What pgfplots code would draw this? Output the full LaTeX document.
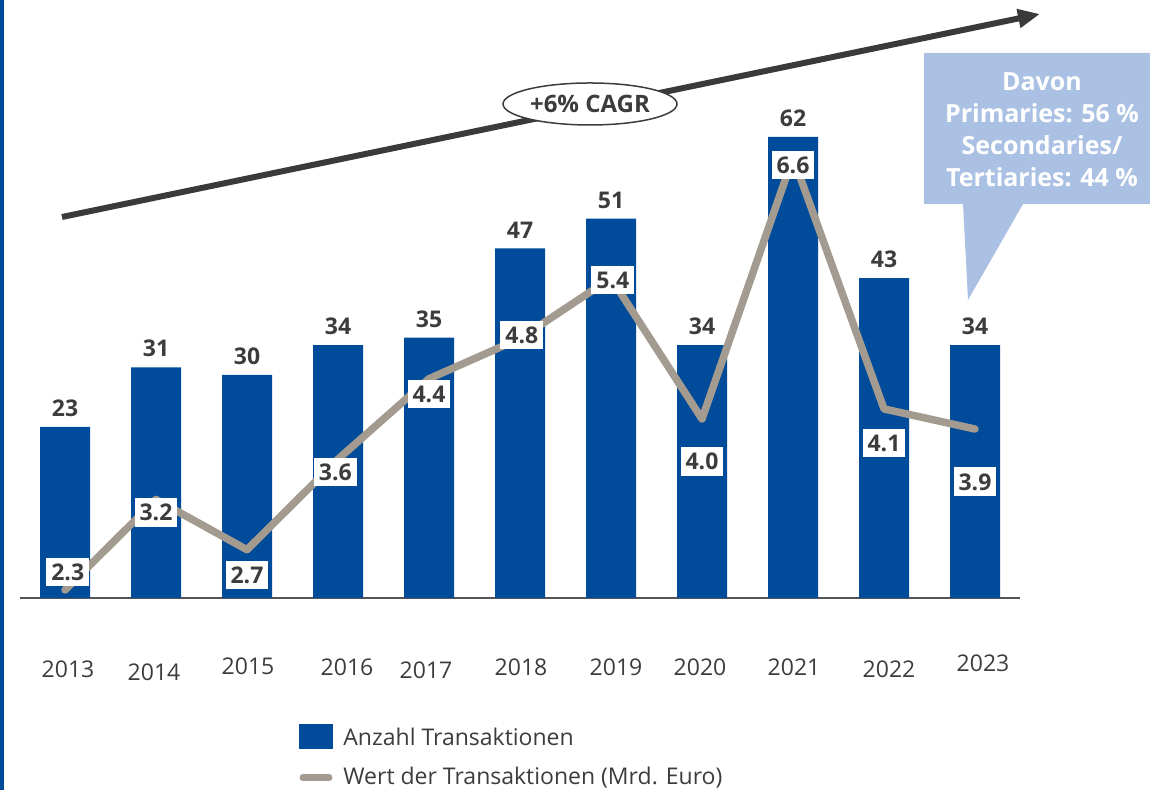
\documentclass[border=0pt]{standalone}
\usepackage{fontspec}
\setmainfont{Open Sans}
\usepackage{pgfplots}
\pgfplotsset{compat=1.18}
\usetikzlibrary{arrows.meta}
\definecolor{barblue}{HTML}{004B9A}
\definecolor{linegray}{HTML}{A39B8F}
\definecolor{calloutblue}{HTML}{ABC1E3}
\definecolor{txt}{HTML}{3C3C3C}
\definecolor{arrowgray}{HTML}{3A3A3A}
\definecolor{basegray}{HTML}{555555}
\newcommand\yl[3]{\raisebox{#2}{\makebox[0pt]{\hspace{#1}#3}}}
\begin{document}
\begin{tikzpicture}
\path[use as bounding box] (0,0) rectangle (575pt,395pt);
% bars
\begin{axis}[at={(10pt,96pt)}, anchor=south west, scale only axis,
  width=500pt, height=299pt,
  xmin=-0.4945, xmax=10.4945, ymin=0, ymax=80.4,
  axis x line=bottom, axis y line=none,
  x axis line style={-, draw=basegray, line width=1pt},
  xtick={0,...,10}, major tick length=0pt,
  xticklabels={\yl{3pt}{-1pt}{2013},\yl{-2pt}{-2.5pt}{2014},\yl{1pt}{0.5pt}{2015},
    \yl{9pt}{0pt}{2016},\yl{-3pt}{-1.5pt}{2017},\yl{1pt}{0pt}{2018},\yl{5pt}{0pt}{2019},
    \yl{-2pt}{0pt}{2020},\yl{1pt}{0pt}{2021},\yl{5pt}{-1pt}{2022},\yl{8pt}{2pt}{2023}},
  xticklabel style={anchor=base, yshift=-39pt, font=\fontsize{11.5}{13}\selectfont, text=txt},
  clip=false]
\addplot[ybar, bar width=25pt, fill=barblue, draw=none,
  point meta=explicit symbolic, nodes near coords,
  nodes near coords style={font=\bfseries\fontsize{11.5}{13}\selectfont, text=txt,
    anchor=south, inner sep=0pt, yshift=4.9pt}]
  coordinates {(0,23)[23] (1,31)[31] (2,30)[30] (3,34)[34] (4,35)[35] (5,47)[47]
    (6,51)[51] (7,34)[34] (8,62)[62] (9,43)[43] (10,34)[34]};
\end{axis}
% line
\begin{axis}[at={(10pt,96pt)}, anchor=south west, scale only axis,
  width=500pt, height=299pt,
  xmin=-0.4945, xmax=10.4945, ymin=2.2205, ymax=8.165,
  hide axis, clip=false]
\addplot[linegray, line width=3.75pt, line cap=round, line join=round, mark=none]
  coordinates {(0,2.3) (1,3.2) (2,2.7) (3,3.6) (4,4.4) (5,4.8) (6,5.4) (7,4.0)
    (8,6.6) (9,4.1) (10,3.9)};
\addplot[draw=none, mark=none, point meta=explicit symbolic, nodes near coords,
  nodes near coords style={fill=white, text=txt, font=\bfseries\fontsize{11.5}{13}\selectfont,
    inner xsep=2.5pt, inner ysep=3pt, anchor=center}]
  coordinates {(0.03,2.479)[2.3] (1,3.075)[3.2] (2,2.449)[2.7] (2.97,3.473)[3.6]
    (4,4.248)[4.4] (5.02,4.835)[4.8] (6.02,5.381)[5.4] (7,3.582)[4.0]
    (8,6.525)[6.6] (9,3.761)[4.1] (10,3.374)[3.9]};
\end{axis}
% annotations in image pixel coordinates
\begin{scope}[x=0.5pt,y=-0.5pt,shift={(0pt,395pt)}]
\fill[barblue] (0,0) rectangle (4,790);
\draw[arrowgray, line width=3pt, -{Triangle[length=11pt,width=9pt]}] (62,217) -- (1040,14);
\filldraw[fill=white, draw=txt, line width=0.75pt] (590,104) ellipse [x radius=87, y radius=21];
\node[text=txt, font=\bfseries\fontsize{12}{14}\selectfont] at (590,104) {+6\% CAGR};
\fill[calloutblue] (924,53) -- (1150,53) -- (1150,204) -- (1023,204) -- (968,300)
  -- (963,204) -- (924,204) -- cycle;
\node[text=white, font=\bfseries\fontsize{12.5}{16}\selectfont, align=center] at (1042,130)
  {Davon\\Primaries: 56 \%\\Secondaries/\\Tertiaries: 44 \%};
% legend
\fill[barblue] (299,724) rectangle (333,749);
\draw[linegray, line width=3.5pt, line cap=round] (303,778) -- (329,778);
\node[anchor=west, text=txt, font=\fontsize{11.5}{14}\selectfont, inner sep=0pt] at (343,737)
  {Anzahl Transaktionen};
\node[anchor=west, text=txt, font=\fontsize{11.5}{14}\selectfont, inner sep=0pt] at (343,778)
  {Wert der Transaktionen (Mrd. Euro)};
\end{scope}
\end{tikzpicture}
\end{document}
